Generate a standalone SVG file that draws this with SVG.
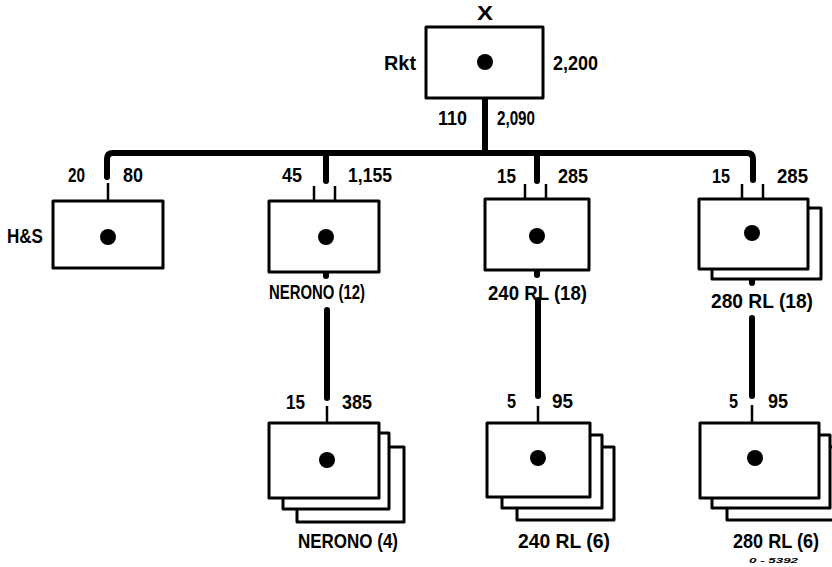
<svg xmlns="http://www.w3.org/2000/svg" width="832" height="567" viewBox="0 0 832 567">
<style>
.box{fill:#fff;stroke:#000;stroke-width:3;stroke-linejoin:round}
.dot{fill:#000}
.thick{fill:none;stroke:#000;stroke-width:6;stroke-linecap:round}
.thin{fill:none;stroke:#000;stroke-width:2.5}
text{font-family:"Liberation Sans",Arial,sans-serif;font-weight:bold;font-size:21px;fill:#000}
.s{font-size:8px;font-style:italic}
</style>
<rect width="832" height="567" fill="#fff"/>
<g id="connectors">
<line class="thick" x1="485" y1="98" x2="485" y2="153"/>
<path class="thick" d="M107,177 V159 Q107,153 113,153 H747 Q753,153 753,159 V180"/>
<line class="thick" x1="326" y1="153" x2="326" y2="181"/>
<line class="thick" x1="537" y1="153" x2="537" y2="181"/>
<line class="thin" x1="108" y1="183" x2="108" y2="201"/>
<line class="thin" x1="314" y1="186" x2="314" y2="201"/>
<line class="thin" x1="335" y1="186" x2="335" y2="201"/>
<line class="thin" x1="525" y1="184" x2="525" y2="199"/>
<line class="thin" x1="546" y1="184" x2="546" y2="199"/>
<line class="thin" x1="742" y1="184" x2="742" y2="199"/>
<line class="thin" x1="763" y1="184" x2="763" y2="199"/>
<line class="thick" x1="326" y1="272" x2="326" y2="276"/>
<line class="thick" x1="537" y1="270" x2="537" y2="275"/>
<line class="thick" x1="752" y1="279" x2="752" y2="283"/>
<line class="thick" x1="327" y1="310" x2="327" y2="398"/>
<line class="thick" x1="538" y1="300" x2="538" y2="396"/>
<line class="thick" x1="752" y1="318" x2="752" y2="396"/>
<line class="thin" x1="327" y1="406" x2="327" y2="423"/>
<line class="thin" x1="538" y1="406" x2="538" y2="423"/>
<line class="thin" x1="752" y1="405" x2="752" y2="423"/>
</g>
<g id="node-x">
<rect class="box" x="426" y="27" width="117" height="71"/>
<circle class="dot" cx="485" cy="62" r="8"/>
<text x="477" y="20" textLength="16" lengthAdjust="spacingAndGlyphs">X</text>
<text x="384" y="70" textLength="32" lengthAdjust="spacingAndGlyphs">Rkt</text>
<text x="553" y="70" textLength="45" lengthAdjust="spacingAndGlyphs">2,200</text>
<text x="438" y="125" textLength="29" lengthAdjust="spacingAndGlyphs">110</text>
<text x="497" y="125" textLength="38" lengthAdjust="spacingAndGlyphs">2,090</text>
</g>
<g id="node-hs">
<rect class="box" x="53" y="201" width="110" height="67"/>
<circle class="dot" cx="108" cy="237" r="8"/>
<text x="7" y="243" textLength="36" lengthAdjust="spacingAndGlyphs">H&amp;S</text>
<text x="68" y="182" textLength="17" lengthAdjust="spacingAndGlyphs">20</text>
<text x="123" y="182" textLength="20" lengthAdjust="spacingAndGlyphs">80</text>
</g>
<g id="node-nerono12">
<rect class="box" x="269" y="201" width="110" height="71"/>
<circle class="dot" cx="326" cy="237" r="8"/>
<text x="282" y="182" textLength="20" lengthAdjust="spacingAndGlyphs">45</text>
<text x="348" y="182" textLength="44" lengthAdjust="spacingAndGlyphs">1,155</text>
<text x="269" y="299" textLength="96" lengthAdjust="spacingAndGlyphs">NERONO (12)</text>
</g>
<g id="node-240rl18">
<rect class="box" x="485" y="199" width="104" height="71"/>
<circle class="dot" cx="537" cy="236" r="8"/>
<text x="497" y="183" textLength="19" lengthAdjust="spacingAndGlyphs">15</text>
<text x="558" y="183" textLength="30" lengthAdjust="spacingAndGlyphs">285</text>
<text x="488" y="300" textLength="99" lengthAdjust="spacingAndGlyphs">240 RL (18)</text>
</g>
<g id="node-280rl18">
<rect class="box" x="712" y="208" width="109" height="71"/>
<rect class="box" x="699" y="199" width="109" height="70"/>
<circle class="dot" cx="752" cy="233" r="8"/>
<text x="712" y="183" textLength="18" lengthAdjust="spacingAndGlyphs">15</text>
<text x="777" y="183" textLength="31" lengthAdjust="spacingAndGlyphs">285</text>
<text x="711" y="308" textLength="102" lengthAdjust="spacingAndGlyphs">280 RL (18)</text>
</g>
<g id="node-nerono4">
<rect class="box" x="297" y="447" width="107" height="75"/>
<rect class="box" x="283" y="433" width="106" height="76"/>
<rect class="box" x="269" y="423" width="110" height="75"/>
<circle class="dot" cx="327" cy="460" r="8"/>
<text x="286" y="409" textLength="19" lengthAdjust="spacingAndGlyphs">15</text>
<text x="342" y="409" textLength="30" lengthAdjust="spacingAndGlyphs">385</text>
<text x="298" y="548" textLength="100" lengthAdjust="spacingAndGlyphs">NERONO (4)</text>
</g>
<g id="node-240rl6">
<rect class="box" x="517" y="447" width="97" height="73"/>
<rect class="box" x="502" y="435" width="100" height="73"/>
<rect class="box" x="487" y="423" width="103" height="74"/>
<circle class="dot" cx="538" cy="458" r="8"/>
<text x="507" y="408" textLength="9" lengthAdjust="spacingAndGlyphs">5</text>
<text x="552" y="408" textLength="21" lengthAdjust="spacingAndGlyphs">95</text>
<text x="518" y="548" textLength="92" lengthAdjust="spacingAndGlyphs">240 RL (6)</text>
</g>
<g id="node-280rl6">
<rect class="box" x="727" y="447" width="110" height="73"/>
<rect class="box" x="712" y="435" width="118" height="73"/>
<rect class="box" x="700" y="423" width="119" height="75"/>
<circle class="dot" cx="755" cy="458" r="8"/>
<text x="729" y="408" textLength="9" lengthAdjust="spacingAndGlyphs">5</text>
<text x="768" y="408" textLength="20" lengthAdjust="spacingAndGlyphs">95</text>
<text x="733" y="548" textLength="86" lengthAdjust="spacingAndGlyphs">280 RL (6)</text>
<text class="s" x="749" y="563" textLength="49" lengthAdjust="spacingAndGlyphs">0 - 5392</text>
</g>
</svg>
